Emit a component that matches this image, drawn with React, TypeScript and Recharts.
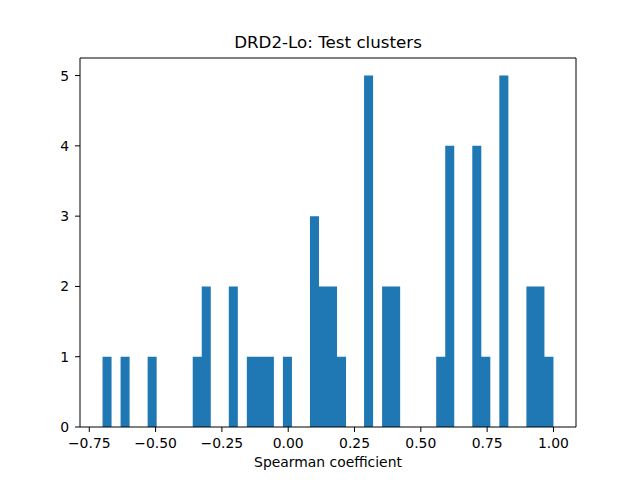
import React from "react";
import { ComposedChart, Area, XAxis, YAxis, ReferenceLine } from "recharts";

const binStart = -0.7;
const binEnd = 1.0;
const counts = [
  1, 0, 1, 0, 0, 1, 0, 0, 0, 0,
  1, 2, 0, 0, 2, 0, 1, 1, 1, 0,
  1, 0, 0, 3, 2, 2, 1, 0, 0, 5,
  0, 2, 2, 0, 0, 0, 0, 1, 4, 0,
  0, 4, 1, 0, 5, 0, 0, 2, 2, 1,
];
const xTicks = [-0.75, -0.5, -0.25, 0, 0.25, 0.5, 0.75, 1.0];
const yTicks = [0, 1, 2, 3, 4, 5];
const title = "DRD2-Lo: Test clusters";
const xLabel = "Spearman coefficient";

const binWidth = (binEnd - binStart) / counts.length;
const histData = counts
  .map((c, i) => ({ x: binStart + i * binWidth, y: c }))
  .concat([{ x: binEnd, y: counts[counts.length - 1] }]);

const span = binEnd - binStart;
const xDomain: [number, number] = [binStart - 0.05 * span, binEnd + 0.05 * span];
const yMax = Math.max(...counts) * 1.05;

const fmtX = (v: number) => {
  const s = Math.abs(v).toFixed(2);
  return v < -1e-9 ? "\u2212" + s : s;
};

const font = "'DejaVu Sans', sans-serif";

export default function App() {
  return (
    <div style={{ position: "absolute", left: 0, top: 0, width: 640, height: 480, background: "#fff", fontFamily: font }}>
      <div
        style={{
          position: "absolute",
          left: 80,
          width: 496,
          top: 32,
          textAlign: "center",
          fontSize: 16.7,
          lineHeight: "20px",
          color: "#000",
        }}
      >
        {title}
      </div>
      <ComposedChart
        width={640}
        height={480}
        data={histData}
        margin={{ top: 58, right: 64, bottom: 8, left: 40 }}
      >
        <XAxis
          dataKey="x"
          type="number"
          domain={xDomain}
          ticks={xTicks}
          tickFormatter={fmtX}
          allowDataOverflow
          height={45}
          tickSize={5}
          tickMargin={6}
          axisLine={{ stroke: "#000", strokeWidth: 1 }}
          tickLine={{ stroke: "#000" }}
          tick={{ fill: "#000", fontSize: 13.9, fontFamily: font }}
          label={{ value: xLabel, position: "insideBottom", offset: 5, fill: "#000", fontSize: 13.9, fontFamily: font }}
        />
        <YAxis
          type="number"
          domain={[0, yMax]}
          ticks={yTicks}
          allowDataOverflow
          width={40}
          tickSize={5}
          tickMargin={6}
          axisLine={{ stroke: "#000", strokeWidth: 1 }}
          tickLine={{ stroke: "#000" }}
          tick={{ fill: "#000", fontSize: 13.9, fontFamily: font }}
        />
        <Area
          dataKey="y"
          type="stepAfter"
          fill="#1f77b4"
          fillOpacity={1}
          stroke="none"
          baseValue={0}
          isAnimationActive={false}
          dot={false}
          activeDot={false}
        />
        <ReferenceLine y={yMax} stroke="#000" strokeWidth={1} ifOverflow="extendDomain" />
        <ReferenceLine x={xDomain[1]} stroke="#000" strokeWidth={1} ifOverflow="extendDomain" />
      </ComposedChart>
    </div>
  );
}
